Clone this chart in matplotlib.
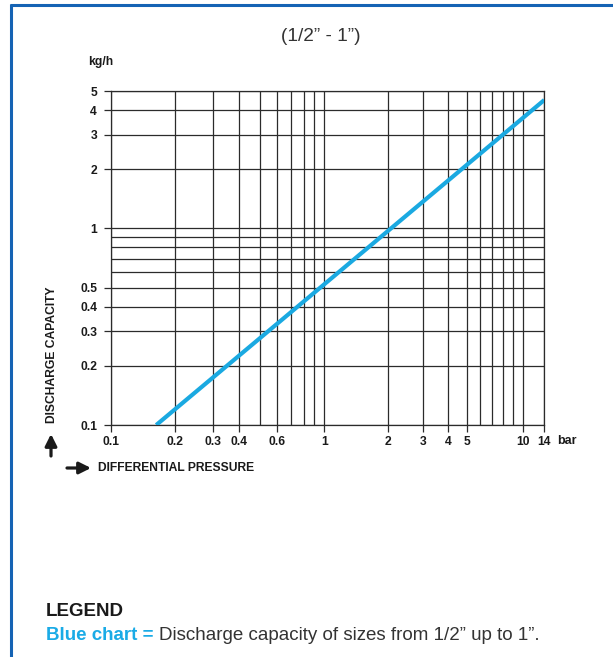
import numpy as np
import matplotlib
matplotlib.use("Agg")
import matplotlib.pyplot as plt
from matplotlib.lines import Line2D
from matplotlib.patches import FancyArrowPatch
from matplotlib.text import Annotation
from matplotlib.ticker import NullFormatter

plt.rcParams['font.family'] = ['Liberation Sans', 'DejaVu Sans']

# ---- data ----
pressure_bar = [0.163, 14.0]          # line end points (x)
capacity_kgh = [0.1, 4.5]             # line end points (y)

x_major = [0.1, 0.2, 0.3, 0.4, 0.6, 1, 2, 3, 4, 5, 10, 14]
x_major_labels = ['0.1', '0.2', '0.3', '0.4', '0.6', '1', '2', '3', '4', '5', '10', '14']
x_minor = [0.5, 0.7, 0.8, 0.9, 6, 7, 8, 9]
y_major = [0.1, 0.2, 0.3, 0.4, 0.5, 1, 2, 3, 4, 5]
y_major_labels = ['0.1', '0.2', '0.3', '0.4', '0.5', '1', '2', '3', '4', '5']
y_minor = [0.6, 0.7, 0.8, 0.9]

# printed x scale is log but the upper decade is compressed: calibration
cal_values = [0.1, 1, 2, 3, 4, 5, 6, 7, 8, 9, 10, 14]
cal_units = [0.0, 1.0, 1.299, 1.463, 1.582, 1.668, 1.730, 1.788, 1.840, 1.887, 1.931, 2.032]

KX = np.concatenate([[-20.0], np.log10(cal_values), [20.0]])
KU = np.concatenate([[-19.0], cal_units, [cal_units[-1] + (20.0 - np.log10(14))]])


def fwd(x):
    x = np.asarray(x, dtype=float)
    lx = np.log10(np.where(x > 0, x, 1e-300))
    return np.interp(lx, KX, KU)


def inv(u):
    u = np.asarray(u, dtype=float)
    return 10 ** np.interp(u, KU, KX)


W, H = 613, 657
fig = plt.figure(figsize=(W / 100, H / 100), dpi=100)
fig.patch.set_facecolor('white')

x0, x1, yt, yb = 111, 544.3, 91, 425
ax = fig.add_axes([x0 / W, 1 - yb / H, (x1 - x0) / W, (yb - yt) / H])
ax.set_xscale('function', functions=(fwd, inv))
ax.set_yscale('log')
ax.set_xlim(0.1, 14)
ax.set_ylim(0.1, 5)

gc = '#2b2b2b'
tc = '#1a1a1a'
ax.set_xticks(x_major)
ax.set_xticklabels(x_major_labels)
ax.set_xticks(x_minor, minor=True)
ax.set_yticks(y_major)
ax.set_yticklabels(y_major_labels)
ax.set_yticks(y_minor, minor=True)
ax.xaxis.set_minor_formatter(NullFormatter())
ax.yaxis.set_minor_formatter(NullFormatter())
ax.grid(True, which='both', color=gc, lw=0.9)
ax.tick_params(which='major', axis='x', length=5, width=0.9, color=gc, pad=3,
               labelsize=8.7)
ax.tick_params(which='major', axis='y', length=5, width=0.9, color=gc, pad=5,
               labelsize=8.7)
ax.tick_params(which='minor', length=0)
for lab in ax.get_xticklabels() + ax.get_yticklabels():
    lab.set_fontweight('bold')
    lab.set_color(tc)
for s in ax.spines.values():
    s.set_color(gc)
    s.set_linewidth(0.9)

ax.plot(pressure_bar, capacity_kgh, color='#1aa9e1', lw=3, solid_capstyle='butt', zorder=5)


def fp(x, y):
    return x / W, 1 - y / H


fig.text(*fp(321, 36.5), '(1/2\u201d - 1\u201d)', ha='center', va='center', fontsize=13.7,
         color='#333333')
fig.text(*fp(88, 62), 'kg/h', ha='left', va='center', fontsize=8.7, fontweight='bold',
         color=tc)
fig.text(*fp(557, 441), 'bar', ha='left', va='center', fontsize=9, fontweight='bold',
         color=tc)
fig.text(*fp(52, 355), 'DISCHARGE CAPACITY', rotation=90, ha='center', va='center',
         fontsize=8.7, fontweight='bold', color=tc)
fig.text(*fp(98, 468), 'DIFFERENTIAL PRESSURE', ha='left', va='center',
         fontsize=8.7, fontweight='bold', color=tc)

astyle = '-|>,head_length=0.7,head_width=0.35'
fig.add_artist(FancyArrowPatch(fp(51, 456), fp(51, 434), transform=fig.transFigure,
                               arrowstyle=astyle, lw=2.3, color=tc, mutation_scale=10,
                               shrinkA=0, shrinkB=0))
fig.add_artist(FancyArrowPatch(fp(67, 468), fp(91, 468), transform=fig.transFigure,
                               arrowstyle=astyle, lw=2.3, color=tc, mutation_scale=10,
                               shrinkA=0, shrinkB=0))

fig.text(*fp(46, 611), 'LEGEND', ha='left', va='center', fontsize=13.5, fontweight='bold',
         color=tc)
t1 = fig.text(*fp(46, 636), 'Blue chart = ', ha='left', va='center', fontsize=13.5,
              fontweight='bold', color='#1aabe6')
ann = Annotation('Discharge capacity of sizes from 1/2\u201d up to 1\u201d.',
                 xy=(1, 0.5), xycoords=t1, ha='left', va='center',
                 fontsize=13.5, color='#333333')
fig.add_artist(ann)

# frame border (top and left)
bc = '#1563b4'
fig.add_artist(Line2D([11 / W, 11 / W], [1 - 4 / H, 0], transform=fig.transFigure,
                      color=bc, lw=2.2, solid_capstyle='butt'))
fig.add_artist(Line2D([10 / W, 1], [1 - 5 / H, 1 - 5 / H], transform=fig.transFigure,
                      color=bc, lw=2.2, solid_capstyle='butt'))

fig.savefig('out.png', dpi=100, facecolor='white')
